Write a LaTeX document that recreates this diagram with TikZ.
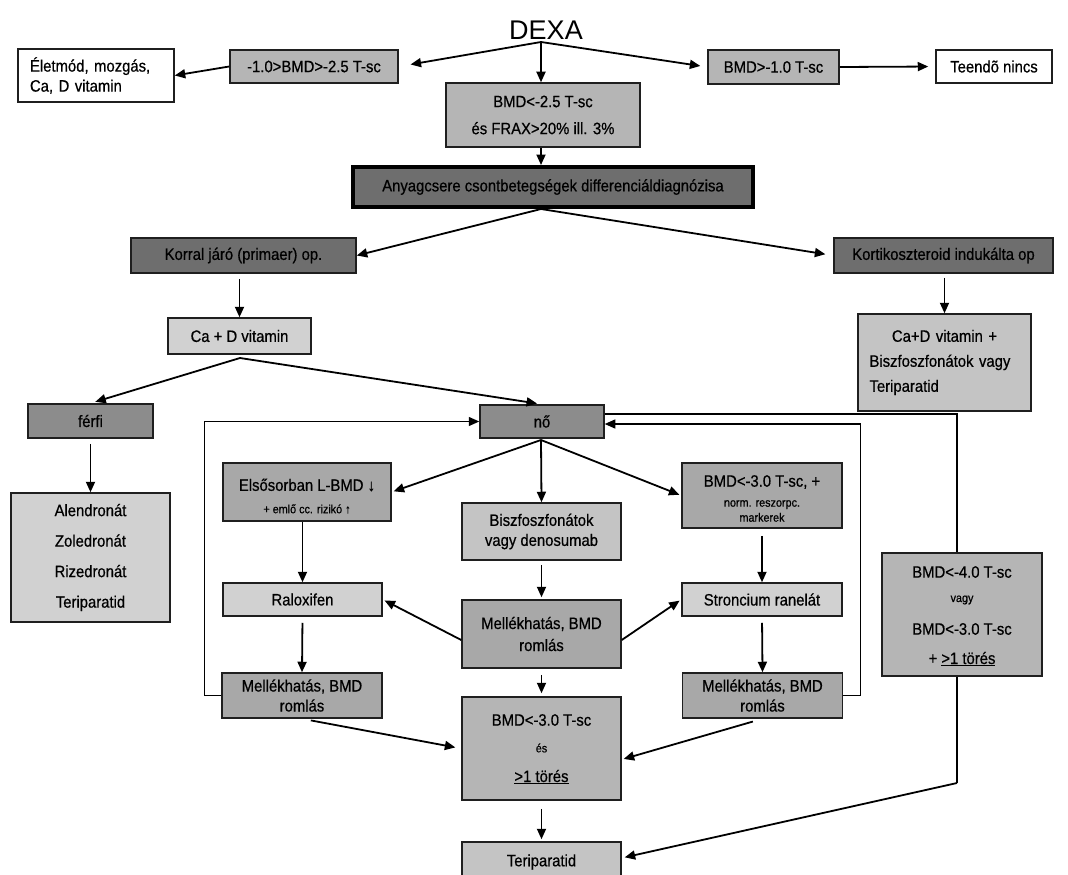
\documentclass[tikz,border=0pt]{standalone}
\usepackage{fontspec}
\setmainfont{Liberation Sans}[FakeStretch=0.9,FakeBold=0.6]
\newfontfamily\dexafont{Liberation Sans}
\usetikzlibrary{arrows.meta}
\definecolor{edge}{gray}{0.12}
\definecolor{fA}{gray}{0.43}
\definecolor{fB}{gray}{0.55}
\definecolor{fC}{gray}{0.66}
\definecolor{fD}{gray}{0.71}
\definecolor{fE}{gray}{0.77}
\definecolor{fF}{gray}{0.82}
\begin{document}
\begin{tikzpicture}[x=1pt,y=-1pt,
 box/.style={draw=edge,line width=1.5pt,inner sep=0pt,align=center,font=\fontsize{16.5}{19}\selectfont},
 arr/.style={line width=1.8pt,-{Triangle[length=10.5pt,width=9pt]}},
 loopline/.style={line width=1.3pt},
 looparr/.style={line width=1.3pt,-{Triangle[length=10.5pt,width=9pt]}},
 lbl/.style={inner sep=0pt,font=\fontsize{16.5}{19}\selectfont},
 small/.style={inner sep=0pt,font=\fontsize{12}{14}\selectfont}]
\useasboundingbox (0,0) rectangle (1068,875);

% ---- nodes ----
\node[inner sep=0pt,font=\dexafont\fontsize{27}{30}\selectfont] (dexa) at (546,30) {DEXA};
\node[box,fill=white,minimum width=156pt,minimum height=53pt,text width=132pt,align=left,font=\fontsize{16.5}{20}\selectfont] (elet) at (96,75.5) {Életmód, mozgás,\\Ca, D vitamin};
\node[box,fill=fD,minimum width=168pt,minimum height=33pt] (m1) at (314,66.5) {-1.0>BMD>-2.5 T-sc};
\node[box,fill=fD,minimum width=131pt,minimum height=34pt] (gt) at (773.5,67) {BMD>-1.0 T-sc};
\node[box,fill=white,minimum width=116pt,minimum height=33pt] (teen) at (994,66.5) {Teendõ nincs};
\node[box,fill=fD,minimum width=194pt,minimum height=64pt,font=\fontsize{16.5}{27}\selectfont] (lt) at (543,115) {BMD<-2.5 T-sc\\és FRAX>20\% ill. 3\%};
\node[box,draw=black,line width=4pt,fill=fA,minimum width=400pt,minimum height=40pt] (anyag) at (553,187) {Anyagcsere csontbetegségek differenciáldiagnózisa};
\node[box,fill=fA,minimum width=225pt,minimum height=35pt] (korral) at (243.5,255.5) {Korral járó (primaer) op.};
\node[box,fill=fA,minimum width=219pt,minimum height=35pt] (korti) at (943.5,255.5) {Kortikoszteroid indukálta op};
\node[box,fill=fF,minimum width=143pt,minimum height=36pt] (cad) at (239.5,336) {Ca + D vitamin};
\node[box,fill=fE,minimum width=173pt,minimum height=97pt,text width=150pt,align=left,font=\fontsize{16.5}{25}\selectfont] (cadv) at (944.5,362.5) {\makebox[150pt]{Ca+D vitamin +}\\Biszfoszfonátok vagy\\Teriparatid};
\node[box,fill=fB,minimum width=125pt,minimum height=34pt] (ferfi) at (90.5,421) {férfi};
\node[box,fill=fF,minimum width=159pt,minimum height=129pt,font=\fontsize{16.5}{30.5}\selectfont] (alen) at (90.5,557.5) {Alendronát\\Zoledronát\\Rizedronát\\Teriparatid};
\node[box,fill=fB,minimum width=124pt,minimum height=33pt] (no) at (542,421.5) {nő};
\node[box,fill=fC,minimum width=168pt,minimum height=58pt] (elso) at (307,492) {};
\node[lbl] at (307,485) {Elsősorban L-BMD ↓};
\node[small] at (307,509) {+ emlő cc. rizikó ↑};
\node[box,fill=fE,minimum width=159pt,minimum height=57pt,font=\fontsize{16.5}{20}\selectfont] (bisz) at (541.5,531.5) {Biszfoszfonátok\\vagy denosumab};
\node[box,fill=fC,minimum width=160pt,minimum height=65pt] (lt3p) at (762,495.5) {};
\node[lbl] at (762,482) {BMD<-3.0 T-sc, +};
\node[small,align=center,font=\fontsize{12}{15}\selectfont] at (762,511) {norm. reszorpc.\\markerek};
\node[box,fill=fF,minimum width=159pt,minimum height=33pt] (ralox) at (302.5,599.5) {Raloxifen};
\node[box,fill=fF,minimum width=160pt,minimum height=33pt] (stron) at (762,599.5) {Stroncium ranelát};
\node[box,fill=fC,minimum width=159pt,minimum height=68pt,font=\fontsize{16.5}{22}\selectfont] (melm) at (541.5,634) {Mellékhatás, BMD\\romlás};
\node[box,fill=fC,minimum width=160pt,minimum height=45pt,font=\fontsize{16.5}{20}\selectfont] (mell) at (302,695.5) {Mellékhatás, BMD\\romlás};
\node[box,fill=fC,minimum width=160pt,minimum height=45pt,font=\fontsize{16.5}{20}\selectfont] (melr) at (762.5,695.5) {Mellékhatás, BMD\\romlás};
\node[box,fill=fD,minimum width=159pt,minimum height=103pt] (lt30) at (541.5,748.5) {};
\node[lbl] at (541.5,720) {BMD<-3.0 T-sc};
\node[small] at (541.5,748) {és};
\node[lbl] at (541.5,777) {\underline{>1 törés}};
\node[box,fill=fD,minimum width=160pt,minimum height=123pt] (lt40) at (962,614.5) {};
\node[lbl] at (962,572) {BMD<-4.0 T-sc};
\node[small] at (962,600) {vagy};
\node[lbl] at (962,629) {BMD<-3.0 T-sc};
\node[lbl] at (962,659) {+ \underline{>1 törés}};
\node[box,fill=fE,minimum width=159pt,minimum height=40pt] (teri) at (541.5,862) {Teriparatid};

% ---- connectors ----
\coordinate (dx) at (541,42);
\draw[arr,shorten >=12pt] (dx) -- (m1.east);
\draw[arr,shorten >=7pt] (dx) -- (gt.west);
\draw[arr] (dx) -- (dx |- lt.north);
\draw[arr] (m1.west) -- (elet.east);
\draw[arr,shorten >=7pt] (gt.east) -- (teen.west);
\draw[arr] (dx |- lt.south) -- (dx |- anyag.north);
\coordinate (af) at (541,209);
\draw[arr] (af) -- (korral.east);
\draw[arr,shorten >=8pt] (af) -- (korti.west);
\draw[arr,shorten <=5pt] (cad.north |- korral.south) -- (cad.north);
\draw[arr,shorten <=4pt] (cadv.north |- korti.south) -- (cadv.north);
\coordinate (cf) at (240,358);
\draw[arr,shorten >=5pt] (cf) -- (ferfi.north);
\draw[arr,shorten >=5pt] (cf) -- (no.north);
\draw[arr,shorten <=5pt] (ferfi.south) -- (alen.north);
\coordinate (nf) at (541,440);
\draw[arr,shorten >=2pt] (nf) -- (elso.east);
\draw[arr] (nf) -- (bisz.north);
\draw[arr,shorten >=2pt] (nf) -- (lt3p.west);
\draw[arr] (ralox.north |- elso.south) -- (ralox.north);
\draw[arr,shorten <=7pt] (lt3p.south) -- (stron.north);
\draw[arr,shorten <=4pt,shorten >=2pt] (bisz.south) -- (melm.north);
\draw[arr,shorten >=2pt] ([yshift=-6pt]melm.west) -- (ralox.east);
\draw[arr,shorten >=2pt] ([yshift=-6pt]melm.east) -- (stron.west);
\draw[arr,shorten <=6pt] (ralox.south) -- (mell.north);
\draw[arr,shorten <=6pt] (stron.south) -- (melr.north);
\draw[arr,shorten <=6pt,shorten >=3pt] (melm.south) -- (lt30.north);
\draw[arr,shorten <=9pt,shorten >=6pt] (mell.south) -- (lt30.west);
\draw[arr,shorten <=10pt,shorten >=2pt] (melr.south) -- ([yshift=-11pt]lt30.east);
\draw[arr,shorten <=8pt,shorten >=2pt] (lt30.south) -- (teri.north);
% loops
\draw[looparr] (mell.west) -- ++(-17,0) |- (no.west);
\draw[looparr] (melr.east) -- ++(17,0) |- ([yshift=-2.5pt]no.east);
\coordinate (r1) at (957,414);
\coordinate (r2) at (957,783);
\draw[loopline] ([yshift=7.5pt]no.east) -- (r1) -- (r1 |- lt40.north);
\draw[loopline] (r2 |- lt40.south) -- (r2);
\draw[arr,shorten >=3pt] (r2) -- ([yshift=4pt]teri.east);
\end{tikzpicture}
\end{document}
